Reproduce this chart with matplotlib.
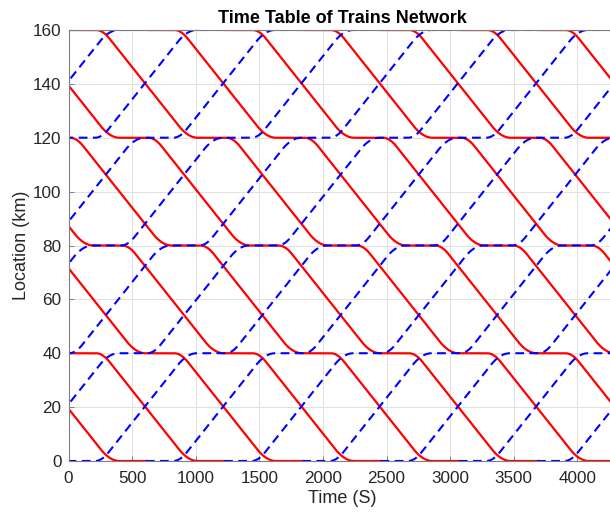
import numpy as np
import matplotlib
matplotlib.use("Agg")
import matplotlib.pyplot as plt

# ---- timetable data ----
stations = [0, 40, 80, 120, 160]                 # km
# departure times (s) of southbound (red) trains from the 160 km terminal
red_dep_160 = [-4089, -3474, -2859, -2244, -1629, -1014, -399,
               216, 831, 1446, 2061, 2676, 3291, 3906]
# departure times (s) of northbound (blue) trains from the 0 km terminal
blue_dep_0 = [-4097, -3482, -2867, -2252, -1637, -1022, -407,
              208, 823, 1438, 2053, 2668, 3283, 3898]
run_time = 800        # s between adjacent stations
dwell_time = 225      # s at intermediate stations
terminal_dwell = 215  # s at terminals
accel_time = 105      # s of acceleration
brake_time = 150      # s of braking

x_ticks = [0, 500, 1000, 1500, 2000, 2500, 3000, 3500, 4000]
y_ticks = [0, 20, 40, 60, 80, 100, 120, 140, 160]


def run_profile(n=160):
    tt = np.linspace(0, run_time, n)
    v = 1.0 / (run_time - 0.5 * accel_time - 0.5 * brake_time)
    s = np.where(tt < accel_time, 0.5 * v / accel_time * tt ** 2,
                 np.where(tt <= run_time - brake_time,
                          0.5 * v * accel_time + v * (tt - accel_time),
                          1 - 0.5 * v / brake_time * (run_time - tt) ** 2))
    return tt, s


def trajectory(dep, order):
    tt, s = run_profile()
    ts = [np.array([dep - terminal_dwell, dep])]
    ys = [np.array([order[0], order[0]], dtype=float)]
    cur = dep
    for i in range(len(order) - 1):
        a, b = order[i], order[i + 1]
        ts.append(cur + tt)
        ys.append(a + (b - a) * s)
        cur += run_time
        hold = dwell_time if i < len(order) - 2 else terminal_dwell
        ts.append(np.array([cur, cur + hold]))
        ys.append(np.array([b, b], dtype=float))
        cur += hold
    return np.concatenate(ts), np.concatenate(ys)


plt.rcParams['font.family'] = ['Liberation Sans', 'DejaVu Sans']
fig = plt.figure(figsize=(6.10, 5.12), dpi=100)
ax = fig.add_axes([68.5 / 610, 51 / 512, 547 / 610, 431 / 512])

for d in red_dep_160:
    t, y = trajectory(d, stations[::-1])
    ax.plot(t, y, color='red', lw=1.6, solid_joinstyle='round')
for d in blue_dep_0:
    t, y = trajectory(d, stations)
    ax.plot(t, y, color='blue', lw=1.5, ls=(0, (4.2, 2.6)))

ax.set_xticks(x_ticks)
ax.set_yticks(y_ticks)
ax.set_xlim(0, 4300)
ax.set_ylim(0, 160)
ax.grid(True, color='#e0e0e0', lw=0.7)
ax.set_axisbelow(True)
ax.tick_params(direction='in', length=3.5, width=0.7, colors='#7f7f7f',
               labelcolor='#262626', labelsize=12.3)
ax.tick_params(axis='x', pad=7)
ax.tick_params(axis='y', pad=5)
for sp in ax.spines.values():
    sp.set_color('#7f7f7f')
    sp.set_linewidth(0.8)

ax.set_title('Time Table of Trains Network', fontsize=13, fontweight='bold', pad=5)
ax.set_xlabel('Time (S)', fontsize=13, color='#262626', labelpad=3)
ax.set_ylabel('Location (km)', fontsize=13, color='#262626', labelpad=2)

fig.savefig('out.png', dpi=100)
